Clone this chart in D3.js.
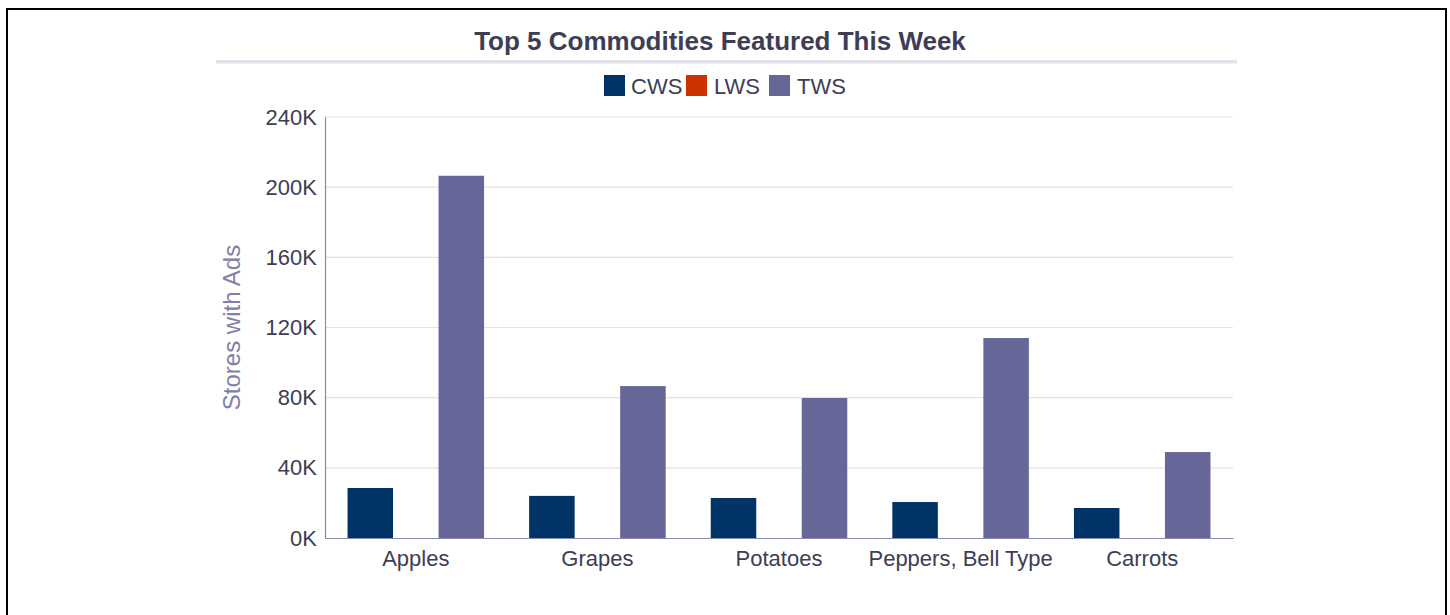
<!DOCTYPE html>
<html><head><meta charset="utf-8">
<script src="https://cdn.jsdelivr.net/npm/d3@7"></script>
<style>
html,body{margin:0;padding:0;background:#fff;}
svg{display:block;font-family:"Liberation Sans",Arial,sans-serif;}
</style></head>
<body>
<svg id="chart" width="1450" height="615"></svg>
<script>
const categories = ["Apples","Grapes","Potatoes","Peppers, Bell Type","Carrots"];
const seriesNames = ["CWS","LWS","TWS"];
const seriesColors = ["#003366","#cc3300","#666699"];
const cwsValues = [28500, 24000, 22800, 20500, 17100];
const lwsValues = [0, 0, 0, 0, 0];
const twsValues = [206500, 86600, 79800, 114000, 49000];
const yTicks = [0, 40000, 80000, 120000, 160000, 200000, 240000];
const titleText = "Top 5 Commodities Featured This Week";
const yLabelText = "Stores with Ads";

const seriesValues = [cwsValues, lwsValues, twsValues];
const svg = d3.select("#chart");

// outer border
svg.append("rect").attr("x",7).attr("y",9).attr("width",1439).attr("height",640)
  .attr("fill","none").attr("stroke","#000").attr("stroke-width",2);

// title
svg.append("text").attr("x",720).attr("y",50).attr("text-anchor","middle")
  .attr("font-size",26).attr("font-weight","bold").attr("fill","#3d3d55").text(titleText);
svg.append("rect").attr("x",216).attr("y",60.5).attr("width",1021).attr("height",3).attr("fill","#e4e4ec");
svg.append("line").attr("x1",216).attr("x2",1237).attr("y1",61).attr("y2",61).attr("stroke","#d8d8e2").attr("stroke-width",1);

// legend
const legendItems = [{x:604, tx:631},{x:686, tx:714},{x:769, tx:797}];
seriesNames.forEach((s,i)=>{
  svg.append("rect").attr("x",legendItems[i].x).attr("y",75).attr("width",21).attr("height",21).attr("fill",seriesColors[i]);
  svg.append("text").attr("x",legendItems[i].tx).attr("y",94).attr("font-size",22).attr("fill","#3d3d55").text(s);
});

const margin = {left:325, right:1233, top:117, bottom:538};
const x0 = d3.scaleBand().domain(categories).range([margin.left, margin.right]).padding(0);
const x1 = d3.scaleBand().domain(seriesNames).range([0, x0.bandwidth()]).paddingInner(0).paddingOuter(0.495);
const y = d3.scaleLinear().domain([0, 240000]).range([margin.bottom, margin.top]);

// gridlines
svg.append("g").selectAll("line").data(yTicks.filter(d=>d>0)).join("line")
  .attr("x1",margin.left).attr("x2",margin.right)
  .attr("y1",d=>y(d)).attr("y2",d=>y(d))
  .attr("stroke","#e2e2ea").attr("stroke-width",1.2);

// bars
const g = svg.append("g");
categories.forEach((c,ci)=>{
  seriesNames.forEach((s,si)=>{
    const v = seriesValues[si][ci];
    if (v<=0) return;
    g.append("rect")
      .attr("x", x0(c)+x1(s)).attr("width", x1.bandwidth())
      .attr("y", y(v)).attr("height", y(0)-y(v))
      .attr("fill", seriesColors[si]);
  });
});

// y axis
const yAxis = d3.axisLeft(y).tickValues(yTicks).tickSize(0).tickPadding(8)
  .tickFormat(d=>(d/1000)+"K");
const ya = svg.append("g").attr("transform",`translate(${margin.left},0)`).call(yAxis);
ya.select(".domain").attr("stroke","#8a8aaa").attr("stroke-width",1.2);
ya.selectAll("text").attr("font-size",22).attr("fill","#3d3d55").attr("font-family","Liberation Sans, Arial, sans-serif");

// x axis
const xAxis = d3.axisBottom(x0).tickSize(0).tickPadding(12);
const xa = svg.append("g").attr("transform",`translate(0,${margin.bottom})`).call(xAxis);
xa.select(".domain").attr("stroke","#8a8aaa").attr("stroke-width",1.2);
xa.selectAll("text").attr("font-size",22).attr("fill","#3d3d55").attr("font-family","Liberation Sans, Arial, sans-serif");

// y label
svg.append("text").attr("transform",`translate(240,${(margin.top+margin.bottom)/2}) rotate(-90)`)
  .attr("text-anchor","middle").attr("font-size",24).attr("fill","#8080aa").text(yLabelText);
</script>
</body></html>
